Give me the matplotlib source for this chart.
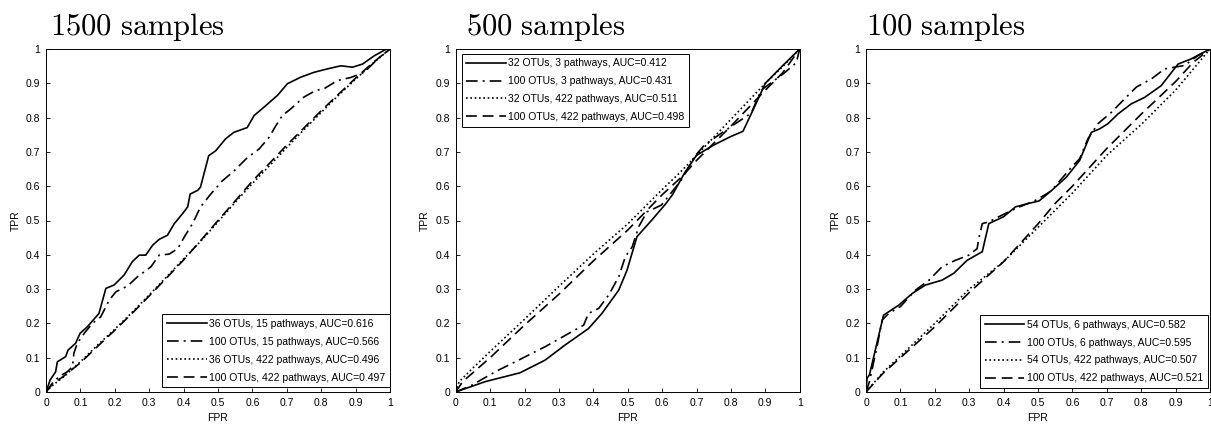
import matplotlib.pyplot as plt

plt.rcParams['font.family'] = ['Liberation Sans', 'DejaVu Sans']
plt.rcParams['mathtext.fontset'] = 'cm'

# ---- data ----
titles = ['1500 samples', '500 samples', '100 samples']

labels_1500 = ['36 OTUs, 15 pathways, AUC=0.616',
               '100 OTUs, 15 pathways, AUC=0.566',
               '36 OTUs, 422 pathways, AUC=0.496',
               '100 OTUs, 422 pathways, AUC=0.497']
labels_500 = ['32 OTUs, 3 pathways, AUC=0.412',
              '100 OTUs, 3 pathways, AUC=0.431',
              '32 OTUs, 422 pathways, AUC=0.511',
              '100 OTUs, 422 pathways, AUC=0.498']
labels_100 = ['54 OTUs, 6 pathways, AUC=0.582',
              '100 OTUs, 6 pathways, AUC=0.595',
              '54 OTUs, 422 pathways, AUC=0.507',
              '100 OTUs, 422 pathways, AUC=0.521']

# 1500 samples
fpr_1500_a = [0, 0.012, 0.028, 0.033, 0.057, 0.064, 0.086, 0.099, 0.12, 0.154, 0.174, 0.198,
              0.227, 0.251, 0.271, 0.29, 0.31, 0.329, 0.353, 0.373, 0.397, 0.412, 0.419, 0.441,
              0.449, 0.473, 0.493, 0.522, 0.546, 0.585, 0.605, 0.639, 0.673, 0.702, 0.741,
              0.779, 0.818, 0.857, 0.891, 0.92, 0.954, 0.988, 1]
tpr_1500_a = [0, 0.035, 0.059, 0.088, 0.103, 0.122, 0.142, 0.171, 0.19, 0.229, 0.302, 0.312,
              0.341, 0.38, 0.399, 0.399, 0.428, 0.445, 0.457, 0.491, 0.52, 0.54, 0.577, 0.588,
              0.597, 0.689, 0.703, 0.738, 0.757, 0.771, 0.806, 0.835, 0.865, 0.899, 0.918,
              0.932, 0.942, 0.951, 0.947, 0.956, 0.98, 0.999, 1]
fpr_1500_b = [0, 0.018, 0.038, 0.062, 0.077, 0.081, 0.091, 0.111, 0.135, 0.159, 0.184, 0.203,
              0.237, 0.266, 0.305, 0.329, 0.358, 0.383, 0.402, 0.426, 0.449, 0.478, 0.512,
              0.546, 0.585, 0.619, 0.648, 0.668, 0.687, 0.711, 0.75, 0.784, 0.808, 0.847,
              0.886, 0.925, 0.964, 1]
tpr_1500_b = [0, 0.025, 0.045, 0.059, 0.074, 0.113, 0.142, 0.171, 0.2, 0.219, 0.268, 0.292,
              0.309, 0.336, 0.365, 0.399, 0.402, 0.418, 0.452, 0.491, 0.539, 0.576, 0.615,
              0.644, 0.683, 0.708, 0.742, 0.776, 0.806, 0.825, 0.86, 0.879, 0.884, 0.908,
              0.917, 0.932, 0.971, 1]
fpr_1500_c = [0, 0.02, 0.05, 0.1, 0.15, 0.2, 0.25, 0.3, 0.35, 0.4, 0.45, 0.5, 0.55, 0.6, 0.65,
              0.7, 0.75, 0.8, 0.85, 0.9, 0.95, 1]
tpr_1500_c = [0, 0.02, 0.043, 0.088, 0.137, 0.183, 0.232, 0.283, 0.335, 0.388, 0.44, 0.496,
              0.553, 0.608, 0.66, 0.713, 0.765, 0.815, 0.865, 0.912, 0.958, 1]
fpr_1500_d = [0, 0.02, 0.05, 0.1, 0.15, 0.2, 0.25, 0.3, 0.35, 0.4, 0.45, 0.5, 0.55, 0.6, 0.65,
              0.7, 0.75, 0.8, 0.85, 0.9, 0.95, 1]
tpr_1500_d = [0, 0.025, 0.045, 0.085, 0.133, 0.18, 0.229, 0.28, 0.332, 0.385, 0.442, 0.5,
              0.557, 0.615, 0.667, 0.72, 0.77, 0.82, 0.868, 0.915, 0.96, 1]

# 500 samples
fpr_500_a = [0, 0.017, 0.085, 0.187, 0.26, 0.318, 0.386, 0.425, 0.474, 0.498, 0.527, 0.569,
             0.61, 0.63, 0.665, 0.7, 0.75, 0.8, 0.835, 0.868, 0.9, 0.946, 1]
tpr_500_a = [0, 0.006, 0.03, 0.056, 0.093, 0.137, 0.185, 0.229, 0.297, 0.355, 0.453, 0.5,
             0.548, 0.575, 0.638, 0.69, 0.72, 0.745, 0.76, 0.83, 0.9, 0.947, 1]
fpr_500_b = [0, 0.047, 0.115, 0.183, 0.26, 0.338, 0.372, 0.386, 0.416, 0.445, 0.474, 0.493,
             0.513, 0.532, 0.556, 0.598, 0.656, 0.694, 0.723, 0.78, 0.859, 0.888, 0.955, 0.99, 1]
tpr_500_b = [0, 0.02, 0.059, 0.093, 0.132, 0.176, 0.195, 0.229, 0.244, 0.283, 0.336, 0.394,
             0.423, 0.482, 0.525, 0.545, 0.618, 0.686, 0.72, 0.76, 0.813, 0.88, 0.93, 0.96, 1]
fpr_500_c = [0, 0.01, 0.05, 0.1, 0.2, 0.3, 0.4, 0.5, 0.6, 0.65, 0.7, 0.8, 0.9, 0.95, 1]
tpr_500_c = [0, 0.03, 0.07, 0.118, 0.212, 0.308, 0.402, 0.49, 0.59, 0.638, 0.69, 0.795, 0.9,
             0.948, 1]
fpr_500_d = [0, 0.02, 0.1, 0.2, 0.3, 0.4, 0.5, 0.6, 0.66, 0.7, 0.8, 0.9, 0.95, 1]
tpr_500_d = [0, 0.03, 0.1, 0.195, 0.285, 0.382, 0.472, 0.575, 0.63, 0.675, 0.775, 0.88, 0.93, 1]

# 100 samples
fpr_100_a = [0, 0.003, 0.01, 0.051, 0.095, 0.134, 0.173, 0.221, 0.255, 0.294, 0.338, 0.357,
             0.4, 0.435, 0.474, 0.503, 0.539, 0.582, 0.621, 0.655, 0.679, 0.703, 0.733, 0.771,
             0.81, 0.858, 0.907, 0.945, 1]
tpr_100_a = [0, 0.04, 0.05, 0.224, 0.253, 0.287, 0.312, 0.326, 0.346, 0.384, 0.409, 0.491,
             0.511, 0.54, 0.55, 0.557, 0.587, 0.626, 0.675, 0.757, 0.767, 0.782, 0.811, 0.84,
             0.859, 0.893, 0.956, 0.971, 1]
fpr_100_b = [0, 0.01, 0.032, 0.047, 0.066, 0.1, 0.144, 0.183, 0.221, 0.26, 0.299, 0.323,
             0.328, 0.338, 0.357, 0.396, 0.435, 0.493, 0.527, 0.539, 0.597, 0.621, 0.645, 0.674,
             0.713, 0.752, 0.786, 0.83, 0.868, 0.897, 0.926, 0.965, 1]
tpr_100_b = [0, 0.03, 0.132, 0.21, 0.229, 0.249, 0.297, 0.326, 0.365, 0.384, 0.399, 0.418,
             0.448, 0.491, 0.496, 0.516, 0.535, 0.559, 0.579, 0.587, 0.655, 0.68, 0.738, 0.782,
             0.815, 0.855, 0.889, 0.913, 0.942, 0.947, 0.952, 0.981, 1]
fpr_100_c = [0, 0.05, 0.1, 0.2, 0.3, 0.4, 0.5, 0.6, 0.7, 0.8, 0.9, 0.95, 1]
tpr_100_c = [0, 0.058, 0.105, 0.2, 0.3, 0.38, 0.48, 0.58, 0.69, 0.78, 0.88, 0.94, 1]
fpr_100_d = [0, 0.05, 0.1, 0.2, 0.3, 0.4, 0.5, 0.55, 0.6, 0.7, 0.8, 0.9, 0.95, 1]
tpr_100_d = [0, 0.055, 0.1, 0.19, 0.29, 0.38, 0.49, 0.55, 0.6, 0.71, 0.81, 0.905, 0.96, 1]

panels = [
    (titles[0], labels_1500, [(fpr_1500_a, tpr_1500_a), (fpr_1500_b, tpr_1500_b),
                              (fpr_1500_c, tpr_1500_c), (fpr_1500_d, tpr_1500_d)]),
    (titles[1], labels_500, [(fpr_500_a, tpr_500_a), (fpr_500_b, tpr_500_b),
                             (fpr_500_c, tpr_500_c), (fpr_500_d, tpr_500_d)]),
    (titles[2], labels_100, [(fpr_100_a, tpr_100_a), (fpr_100_b, tpr_100_b),
                             (fpr_100_c, tpr_100_c), (fpr_100_d, tpr_100_d)]),
]

styles = ['-', (0, (7, 3, 1.2, 3)), (0, (1, 1.6)), (0, (6.5, 3.5))]

W, H = 1211, 426
fig = plt.figure(figsize=(W / 100, H / 100), dpi=100)

lefts = [46, 455.7, 866]
title_off = [4, 10, 0]
legend_loc = ['lower right', 'upper left', 'lower right']
legend_anchor = [(1.0, 0.014), (0.017, 0.986), (0.994, 0.012)]

for i, (title, labels, curves) in enumerate(panels):
    ax = fig.add_axes([lefts[i] / W, 34 / H, 344 / W, 343 / H])
    for (x, y), ls, lab in zip(curves, styles, labels):
        ax.plot(x, y, color='black', linestyle=ls, linewidth=1.2, label=lab)
    ax.set_xlim(0, 1)
    ax.set_ylim(0, 1)
    ticks = [k / 10 for k in range(11)]
    ax.set_xticks(ticks)
    ax.set_yticks(ticks)
    ax.set_xticklabels(['0'] + ['%.1f' % t for t in ticks[1:-1]] + ['1'])
    ax.set_yticklabels(['0'] + ['%.1f' % t for t in ticks[1:-1]] + ['1'])
    ax.tick_params(direction='in', length=3, width=0.6, labelsize=7.5, pad=4)
    for s in ax.spines.values():
        s.set_linewidth(0.7)
    ax.set_xlabel('FPR', fontsize=7.5, labelpad=4)
    ax.set_ylabel('TPR', fontsize=7.5, labelpad=4)
    ax.text(title_off[i] / 344, 1 + 14 / 343, r'$\mathrm{%s}$' % title.replace(' ', r'\ '),
            transform=ax.transAxes, fontsize=22, va='baseline', ha='left')
    leg = ax.legend(loc=legend_loc[i], bbox_to_anchor=legend_anchor[i], borderaxespad=0,
                    fontsize=7.5, frameon=True, fancybox=False, framealpha=1,
                    handlelength=3.8, handletextpad=0.25, labelspacing=0.75,
                    borderpad=0.45)
    leg.get_frame().set_edgecolor('black')
    leg.get_frame().set_linewidth(0.7)

fig.savefig('out.png', dpi=100)
